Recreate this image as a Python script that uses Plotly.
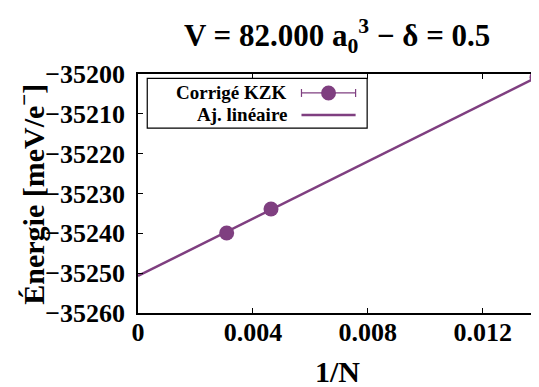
import plotly.graph_objects as go

# Data
inv_n = [1/324, 1/216, 1/72]
energy = [-35239.9, -35233.9, -35200.8]
fit_x = [0.0, 1/72]
fit_y = [-35250.7, -35200.8]

x_ticks = [0, 0.004, 0.008, 0.012]
x_ticktext = ["0", "0.004", "0.008", "0.012"]
y_ticks = [-35260, -35250, -35240, -35230, -35220, -35210, -35200]
y_ticktext = ["−35260", "−35250", "−35240", "−35230", "−35220", "−35210", "−35200"]

legend_labels = ["Corrigé KZK", "Aj. linéaire"]

COLOR = "#7f3f80"
FONT = "Liberation Serif, Times New Roman, serif"

# The page body has an 8px margin; work in window pixels and convert.
OFF = 8
W, H = 539 - OFF, 387 - OFF
L, R, T, B = 138, 539, 74, 313.5  # plot area in window pixels


def px(x):
    return (x - L) / (R - L)


def py(y):
    return (B - y) / (B - T)


fig = go.Figure()
fig.add_trace(go.Scatter(x=fit_x, y=fit_y, mode="lines",
                         line=dict(color=COLOR, width=2.5), showlegend=False,
                         cliponaxis=True))
fig.add_trace(go.Scatter(x=inv_n, y=energy, mode="markers",
                         marker=dict(color=COLOR, size=15), showlegend=False,
                         cliponaxis=False))

shapes = []
annotations = []
# legend box
shapes.append(dict(type="rect", xref="paper", yref="paper",
                   x0=px(147.3), x1=px(368.3), y0=py(128.3), y1=py(78.3),
                   line=dict(color="black", width=1.2), fillcolor="white", layer="above"))
row_y = [93.0, 115.0]
for i, lab in enumerate(legend_labels):
    annotations.append(dict(xref="paper", yref="paper", x=px(290), y=py(row_y[i]),
                            xanchor="right", yanchor="middle", showarrow=False,
                            text="<b>" + lab + "</b>",
                            font=dict(family=FONT, size=19, color="black")))
# sample for points with error bar
shapes.append(dict(type="line", xref="paper", yref="paper",
                   x0=px(302.3), x1=px(356.7), y0=py(row_y[0]), y1=py(row_y[0]),
                   line=dict(color=COLOR, width=1.2), layer="above"))
for cx in (302.3, 356.7):
    shapes.append(dict(type="line", xref="paper", yref="paper",
                       x0=px(cx), x1=px(cx), y0=py(row_y[0] - 4), y1=py(row_y[0] + 4),
                       line=dict(color=COLOR, width=1.2), layer="above"))
shapes.append(dict(type="circle", xref="paper", yref="paper",
                   x0=px(329.5 - 7.5), x1=px(329.5 + 7.5),
                   y0=py(row_y[0] + 7.5), y1=py(row_y[0] - 7.5),
                   line=dict(color=COLOR, width=0), fillcolor=COLOR, layer="above"))
# sample for fit line
shapes.append(dict(type="line", xref="paper", yref="paper",
                   x0=px(302.3), x1=px(356.7), y0=py(row_y[1]), y1=py(row_y[1]),
                   line=dict(color=COLOR, width=2.5), layer="above"))

# axis titles
annotations.append(dict(xref="paper", yref="paper", x=px(339), y=py(372),
                        xanchor="center", yanchor="middle", showarrow=False,
                        text="<b>1/N</b>",
                        font=dict(family=FONT, size=30, color="black")))
annotations.append(dict(xref="paper", yref="paper", x=px(31), y=py(194.5),
                        xanchor="center", yanchor="middle", showarrow=False,
                        textangle=-90,
                        text="<b>Énergie [meV/e<sup>−</sup>]</b>",
                        font=dict(family=FONT, size=30, color="black")))
# title
annotations.append(dict(xref="paper", yref="paper", x=px(338), y=py(36),
                        xanchor="center", yanchor="middle", showarrow=False,
                        text="<b>V = 82.000 a<sub>0</sub><sup>3</sup> − δ = 0.5</b>",
                        font=dict(family=FONT, size=31, color="black")))

axis_common = dict(showline=True, linecolor="black", linewidth=1.5, mirror="ticks",
                   ticks="inside", ticklen=5, tickwidth=1, tickcolor="black",
                   showgrid=False, zeroline=False,
                   tickfont=dict(family=FONT, size=26, color="black", weight="bold"))

fig.update_layout(
    width=W, height=H,
    margin=dict(l=L - OFF, r=W - (R - OFF), t=T - OFF, b=H - (B - OFF), pad=0),
    paper_bgcolor="white", plot_bgcolor="white",
    xaxis=dict(range=[0, 1/72], tickvals=x_ticks,
               ticktext=["<b>" + t + "</b>" for t in x_ticktext],
               ticklabelstandoff=-5, **axis_common),
    yaxis=dict(range=[-35260, -35200], tickvals=y_ticks,
               ticktext=["<b>" + t + "</b>" for t in y_ticktext],
               ticklabelstandoff=6, **axis_common),
    shapes=shapes,
    annotations=annotations,
    showlegend=False,
)

fig.write_html("out.html")
